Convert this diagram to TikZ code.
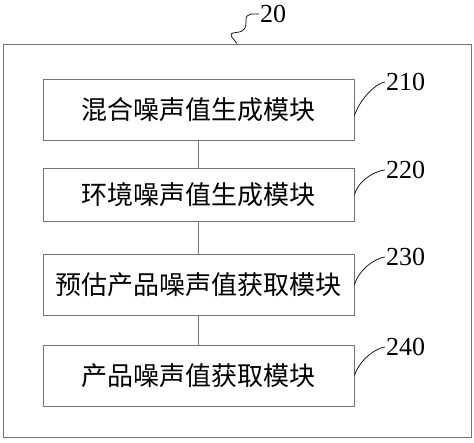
\documentclass[tikz,border=0pt]{standalone}
\usepackage{fontspec}
\setmainfont{Liberation Serif}
\newfontfamily\cjk{Noto Sans CJK SC}
\usetikzlibrary{positioning}
\tikzset{
  module/.style={
	draw=black!55, % grey outline of the module boxes
	line width=1pt,
	minimum width=311pt, minimum height=61pt,
	inner sep=0pt,
	font=\cjk\fontsize{26}{30}\selectfont,
  },
  tag/.style={font=\fontsize{26}{30}\selectfont, anchor=west, inner sep=1pt},
  leader/.style={draw=black, line width=0.7pt},
}

\begin{document}
\begin{tikzpicture}
	  \useasboundingbox (0,0) rectangle (474pt,-442pt);
	  \node[draw=black!55, line width=1pt, minimum width=468pt, minimum height=393pt] (sys) at (237pt,-240.5pt) {};

	  \node[module] (m210) at (198.5pt,-109.5pt) {混合噪声值生成模块};
	  \node[module, below=27pt of m210, minimum height=53pt] (m220) {环境噪声值生成模块};
	  \node[module, below=32pt of m220] (m230) {预估产品噪声值获取模块};
	  \node[module, below=29pt of m230] (m240) {产品噪声值获取模块};

	  \draw[draw=black!55, line width=1pt] (m210) -- (m220) (m220) -- (m230) (m230) -- (m240);

	  % reference numbers
	  \node[tag] (t20) at (259pt,-14pt) {20};
	  \node[tag] (t210) at (385pt,-82pt) {210};
	  \node[tag] (t220) at (385pt,-170pt) {220};
	  \node[tag] (t230) at (385pt,-257pt) {230};
	  \node[tag] (t240) at (385pt,-347pt) {240};

	  \draw[leader] (sys.north) .. controls +(-4pt,6pt) and +(-10pt,-1pt) .. ++(-1pt,11pt)
		.. controls +(10pt,1pt) and +(0pt,-8pt) .. ++(10pt,13pt)
		.. controls +(0pt,7pt) and +(-4pt,0pt) .. (t20.west);
	  \draw[leader] ([yshift=-6pt]m210.east) .. controls +(5pt,16pt) and +(-9pt,-1pt) .. (t210.west);
	  \draw[leader] (m220.east) .. controls +(5pt,16pt) and +(-9pt,-1pt) .. (t220.west);
	  \draw[leader] (m230.east) .. controls +(5pt,16pt) and +(-9pt,-1pt) .. (t230.west);
	  \draw[leader] (m240.east) .. controls +(5pt,16pt) and +(-9pt,-1pt) .. (t240.west);
\end{tikzpicture}
\end{document}
